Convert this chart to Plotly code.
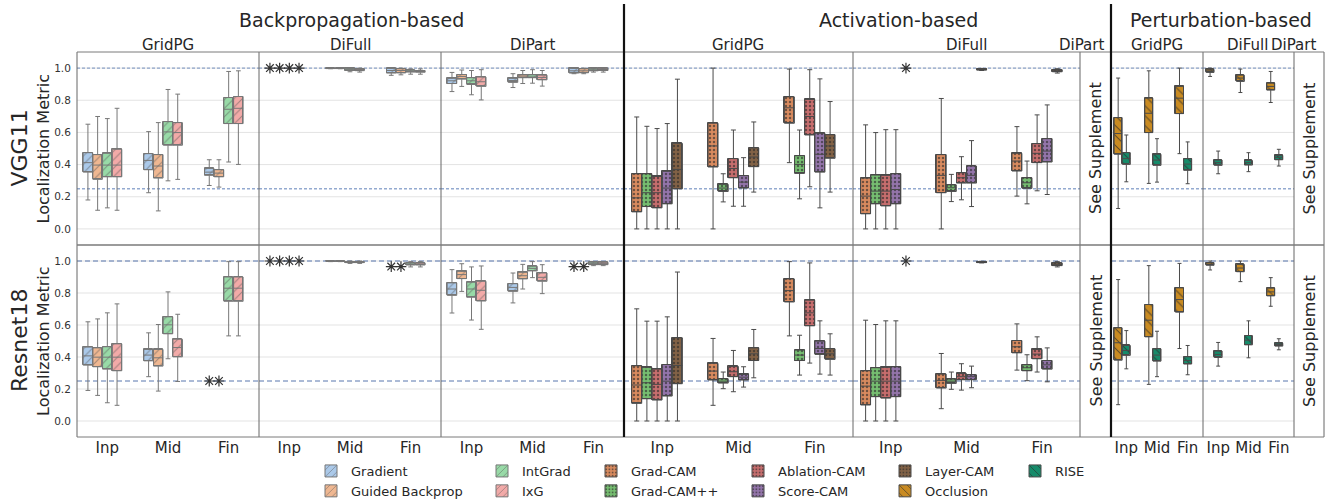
import plotly.graph_objects as go

# ---------------------------------------------------------------- data
CATEGORIES = ["Inp", "Mid", "Fin"]
MODELS = ["VGG11", "Resnet18"]
Y_LABEL = "Localization Metric"
FAMILIES = ["Backpropagation-based", "Activation-based", "Perturbation-based"]
BACKPROP = ["Gradient", "Guided Backprop", "IntGrad", "IxG"]
ACTIVATION = ["Grad-CAM", "Grad-CAM++", "Ablation-CAM", "Score-CAM", "Layer-CAM"]
PERTURBATION = ["Occlusion", "RISE"]
Y_TICKS = [0.0, 0.2, 0.4, 0.6, 0.8, 1.0]
Y_TICK_TEXT = ["0.0", "0.2", "0.4", "0.6", "0.8", "1.0"]
REFERENCE_LINES = [1.0, 0.25]
SUPPLEMENT_NOTE = "See Supplement"

# Per category (Inp, Mid, Fin): (lower whisker, Q1, median, Q3, upper whisker).
# A single number is a degenerate result, drawn as an asterisk at that value.
VGG_BP_GRIDPG = {
    "Gradient": [(0.18, 0.353, 0.412, 0.474, 0.651), (0.225, 0.368, 0.426, 0.468, 0.605), (0.27, 0.333, 0.353, 0.376, 0.43)],
    "Guided Backprop": [(0.116, 0.308, 0.397, 0.462, 0.699), (0.112, 0.316, 0.391, 0.462, 0.661), (0.26, 0.324, 0.347, 0.368, 0.43)],
    "IntGrad": [(0.131, 0.324, 0.397, 0.47, 0.686), (0.299, 0.52, 0.603, 0.667, 0.867), (0.416, 0.655, 0.744, 0.817, 0.979)],
    "IxG": [(0.116, 0.324, 0.397, 0.495, 0.75), (0.308, 0.52, 0.599, 0.661, 0.838), (0.401, 0.655, 0.75, 0.823, 0.983)],
}
VGG_BP_DIFULL = {
    "Gradient": [1.0, (0.996, 0.997, 0.998, 0.999, 1.0), (0.955, 0.969, 0.985, 0.998, 1.0)],
    "Guided Backprop": [1.0, (0.996, 0.997, 0.998, 0.999, 1.0), (0.958, 0.97, 0.985, 0.996, 1.0)],
    "IntGrad": [1.0, (0.977, 0.985, 0.992, 0.998, 1.0), (0.962, 0.975, 0.98, 0.986, 0.995)],
    "IxG": [1.0, (0.975, 0.984, 0.991, 0.997, 1.0), (0.962, 0.974, 0.979, 0.985, 0.995)],
}
VGG_BP_DIPART = {
    "Gradient": [(0.854, 0.904, 0.921, 0.936, 0.973), (0.879, 0.911, 0.923, 0.936, 0.965), (0.965, 0.969, 0.983, 0.998, 1.0)],
    "Guided Backprop": [(0.886, 0.931, 0.948, 0.96, 0.988), (0.904, 0.94, 0.95, 0.958, 0.985), (0.965, 0.971, 0.983, 0.996, 1.0)],
    "IntGrad": [(0.834, 0.898, 0.921, 0.94, 0.985), (0.906, 0.94, 0.95, 0.96, 0.99), (0.975, 0.983, 0.99, 0.998, 1.0)],
    "IxG": [(0.802, 0.886, 0.915, 0.944, 0.99), (0.888, 0.927, 0.942, 0.956, 0.985), (0.975, 0.985, 0.99, 0.998, 1.0)],
}
VGG_ACT_GRIDPG = {
    "Grad-CAM": [(0.0, 0.106, 0.193, 0.343, 0.696), (0.0, 0.385, 0.516, 0.657, 1.0), (0.412, 0.657, 0.753, 0.821, 0.994)],
    "Grad-CAM++": [(0.0, 0.139, 0.225, 0.343, 0.638), (0.168, 0.233, 0.254, 0.277, 0.343), (0.187, 0.345, 0.401, 0.455, 0.615)],
    "Ablation-CAM": [(0.0, 0.131, 0.225, 0.326, 0.624), (0.141, 0.318, 0.376, 0.437, 0.615), (0.262, 0.584, 0.699, 0.805, 0.99)],
    "Score-CAM": [(0.0, 0.156, 0.254, 0.358, 0.655), (0.141, 0.254, 0.291, 0.331, 0.443), (0.131, 0.353, 0.464, 0.595, 0.933)],
    "Layer-CAM": [(0.0, 0.249, 0.37, 0.532, 0.931), (0.229, 0.387, 0.447, 0.503, 0.665), (0.229, 0.439, 0.516, 0.586, 0.792)],
}
VGG_ACT_DIFULL = {
    "Grad-CAM": [(0.0, 0.094, 0.204, 0.316, 0.647), (0.0, 0.225, 0.333, 0.462, 0.811), (0.204, 0.36, 0.422, 0.47, 0.636)],
    "Grad-CAM++": [(0.0, 0.156, 0.235, 0.335, 0.599), (0.17, 0.233, 0.256, 0.274, 0.339), (0.156, 0.252, 0.287, 0.318, 0.422)],
    "Ablation-CAM": [(0.0, 0.143, 0.235, 0.333, 0.617), (0.181, 0.285, 0.318, 0.349, 0.449), (0.237, 0.412, 0.47, 0.53, 0.709)],
    "Score-CAM": [(0.0, 0.156, 0.245, 0.343, 0.617), (0.139, 0.285, 0.333, 0.391, 0.549), (0.214, 0.416, 0.484, 0.561, 0.771)],
    "Layer-CAM": [1.0, (0.985, 0.987, 0.992, 0.996, 0.998), (0.969, 0.977, 0.983, 0.99, 0.996)],
}
VGG_PT_GRIDPG = {
    "Occlusion": [(0.127, 0.464, 0.593, 0.692, 0.938), (0.283, 0.599, 0.719, 0.813, 0.983), (0.468, 0.717, 0.813, 0.886, 1.0)],
    "RISE": [(0.293, 0.401, 0.437, 0.474, 0.584), (0.291, 0.395, 0.428, 0.464, 0.561), (0.281, 0.364, 0.403, 0.437, 0.541)],
}
VGG_PT_DIFULL = {
    "Occlusion": [(0.948, 0.973, 0.983, 0.992, 1.0), (0.848, 0.917, 0.938, 0.956, 0.994), (0.786, 0.863, 0.886, 0.906, 0.979)],
    "RISE": [(0.343, 0.395, 0.412, 0.428, 0.484), (0.356, 0.397, 0.412, 0.426, 0.474), (0.391, 0.43, 0.445, 0.457, 0.495)],
}
RES_BP_GRIDPG = {
    "Gradient": [(0.191, 0.349, 0.407, 0.462, 0.62), (0.277, 0.376, 0.412, 0.447, 0.551), 0.25],
    "Guided Backprop": [(0.16, 0.339, 0.399, 0.457, 0.638), (0.187, 0.343, 0.395, 0.447, 0.603), 0.25],
    "IntGrad": [(0.114, 0.324, 0.399, 0.464, 0.676), (0.389, 0.545, 0.601, 0.651, 0.807), (0.532, 0.748, 0.83, 0.9, 0.996)],
    "IxG": [(0.098, 0.314, 0.399, 0.482, 0.732), (0.247, 0.401, 0.459, 0.511, 0.667), (0.532, 0.748, 0.83, 0.9, 0.996)],
}
RES_BP_DIFULL = {
    "Gradient": [1.0, (0.996, 0.997, 0.998, 0.999, 1.0), 0.965],
    "Guided Backprop": [1.0, (0.996, 0.997, 0.998, 0.999, 1.0), 0.965],
    "IntGrad": [1.0, (0.985, 0.99, 0.993, 0.996, 1.0), (0.963, 0.975, 0.981, 0.988, 0.996)],
    "IxG": [1.0, (0.985, 0.99, 0.993, 0.996, 1.0), (0.963, 0.975, 0.981, 0.988, 0.996)],
}
RES_BP_DIPART = {
    "Gradient": [(0.675, 0.785, 0.825, 0.863, 0.946), (0.738, 0.81, 0.835, 0.858, 0.925), 0.965],
    "Guided Backprop": [(0.81, 0.89, 0.915, 0.935, 0.983), (0.825, 0.888, 0.908, 0.929, 0.979), 0.965],
    "IntGrad": [(0.631, 0.773, 0.825, 0.867, 0.963), (0.896, 0.938, 0.954, 0.967, 0.996), (0.971, 0.977, 0.985, 0.992, 0.996)],
    "IxG": [(0.573, 0.75, 0.817, 0.873, 0.969), (0.796, 0.873, 0.898, 0.925, 0.977), (0.971, 0.977, 0.985, 0.992, 0.996)],
}
RES_ACT_GRIDPG = {
    "Grad-CAM": [(0.0, 0.11, 0.225, 0.345, 0.701), (0.098, 0.256, 0.312, 0.36, 0.516), (0.532, 0.744, 0.815, 0.888, 0.996)],
    "Grad-CAM++": [(0.0, 0.139, 0.239, 0.335, 0.624), (0.202, 0.237, 0.249, 0.264, 0.306), (0.287, 0.378, 0.412, 0.443, 0.536)],
    "Ablation-CAM": [(0.0, 0.131, 0.229, 0.324, 0.624), (0.183, 0.277, 0.308, 0.341, 0.441), (0.362, 0.595, 0.676, 0.755, 0.988)],
    "Score-CAM": [(0.0, 0.156, 0.249, 0.353, 0.651), (0.212, 0.256, 0.274, 0.291, 0.339), (0.293, 0.416, 0.453, 0.499, 0.626)],
    "Layer-CAM": [(0.0, 0.233, 0.347, 0.52, 0.931), (0.27, 0.378, 0.42, 0.457, 0.572), (0.287, 0.385, 0.42, 0.451, 0.545)],
}
RES_ACT_DIFULL = {
    "Grad-CAM": [(0.0, 0.1, 0.218, 0.314, 0.63), (0.077, 0.206, 0.254, 0.293, 0.422), (0.318, 0.426, 0.464, 0.503, 0.607)],
    "Grad-CAM++": [(0.0, 0.152, 0.249, 0.333, 0.603), (0.198, 0.235, 0.249, 0.262, 0.306), (0.252, 0.314, 0.333, 0.351, 0.414)],
    "Ablation-CAM": [(0.0, 0.143, 0.249, 0.335, 0.626), (0.193, 0.258, 0.277, 0.297, 0.358), (0.306, 0.389, 0.418, 0.447, 0.526)],
    "Score-CAM": [(0.0, 0.152, 0.249, 0.339, 0.626), (0.208, 0.258, 0.277, 0.289, 0.343), (0.245, 0.324, 0.351, 0.378, 0.457)],
    "Layer-CAM": [1.0, (0.988, 0.99, 0.993, 0.996, 0.998), (0.963, 0.971, 0.979, 0.988, 0.996)],
}
RES_PT_GRIDPG = {
    "Occlusion": [(0.102, 0.38, 0.489, 0.582, 0.884), (0.229, 0.526, 0.63, 0.728, 0.971), (0.453, 0.68, 0.759, 0.832, 0.985)],
    "RISE": [(0.326, 0.41, 0.441, 0.472, 0.565), (0.277, 0.374, 0.412, 0.451, 0.561), (0.289, 0.356, 0.378, 0.401, 0.472)],
}
RES_PT_DIFULL = {
    "Occlusion": [(0.944, 0.973, 0.981, 0.99, 1.0), (0.871, 0.933, 0.956, 0.979, 1.0), (0.717, 0.782, 0.807, 0.83, 0.896)],
    "RISE": [(0.343, 0.397, 0.416, 0.437, 0.491), (0.395, 0.476, 0.505, 0.534, 0.626), (0.445, 0.468, 0.478, 0.486, 0.514)],
}

# (family index, metric, methods, [VGG11 table, Resnet18 table] or None for "See Supplement")
PANELS = [
    (0, "GridPG", BACKPROP, [VGG_BP_GRIDPG, RES_BP_GRIDPG]),
    (0, "DiFull", BACKPROP, [VGG_BP_DIFULL, RES_BP_DIFULL]),
    (0, "DiPart", BACKPROP, [VGG_BP_DIPART, RES_BP_DIPART]),
    (1, "GridPG", ACTIVATION, [VGG_ACT_GRIDPG, RES_ACT_GRIDPG]),
    (1, "DiFull", ACTIVATION, [VGG_ACT_DIFULL, RES_ACT_DIFULL]),
    (1, "DiPart", ACTIVATION, None),
    (2, "GridPG", PERTURBATION, [VGG_PT_GRIDPG, RES_PT_GRIDPG]),
    (2, "DiFull", PERTURBATION, [VGG_PT_DIFULL, RES_PT_DIFULL]),
    (2, "DiPart", PERTURBATION, None),
]
LEGEND_COLUMNS = [["Gradient", "Guided Backprop"], ["IntGrad", "IxG"], ["Grad-CAM", "Grad-CAM++"],
                  ["Ablation-CAM", "Score-CAM"], ["Layer-CAM", "Occlusion"], ["RISE"]]

# ---------------------------------------------------------------- style
FONT = "DejaVu Sans"
W, H = 1325, 500
LEFT, RIGHT, TOP, BOTTOM = 77, 1324, 52, 437
ROW_SPLIT = 245
PANEL_EDGES = [77, 259, 441, 624, 853, 1080, 1111, 1203, 1294, 1324]
THICK_EDGES = [624, 1111]
FAMILY_TITLE_X = [351, 898, 1221]
SUBTITLE_X = [168, 350, 532, 738, 966, 1081, 1157, 1247, 1293]
LEGEND_TEXT_X = [351, 522, 631, 778, 925, 1055]
SLOTS = [5, 6, 3]
FILL = {
    "Gradient": "#abc9e9", "Guided Backprop": "#efb791", "IntGrad": "#98daa7", "IxG": "#f2aaa8",
    "Grad-CAM": "#d98b5f", "Grad-CAM++": "#76bf71", "Ablation-CAM": "#c76e6e", "Score-CAM": "#9475ab",
    "Layer-CAM": "#826246", "Occlusion": "#c98b22", "RISE": "#168b6a",
}
PATTERN = [
    dict(shape="/", size=6, solidity=0.18, fgcolor="#555555", fgopacity=0.5, fillmode="overlay"),
    dict(shape=".", size=4, solidity=0.3, fgcolor="#2a2a2a", fgopacity=0.6, fillmode="overlay"),
    dict(shape="\\", size=7, solidity=0.15, fgcolor="#2a2a2a", fgopacity=0.7, fillmode="overlay"),
]
EDGE = ["#777777", "#4a4a4a", "#4a4a4a"]
FRAME = "#666666"
GRID = "#e3e3e3"
TEXT = "#262626"
REF_STYLE = [dict(color="rgba(76,114,176,0.6)", width=1.4, dash="3px,2px"),
             dict(color="rgba(60,95,160,0.85)", width=1, dash="5px,3px")]


def px_x(px):
    return (px - LEFT) / (RIGHT - LEFT)


def px_y(py):
    return (BOTTOM - py) / (BOTTOM - TOP)


def ids(n):
    return ("x" if n == 1 else f"x{n}"), ("y" if n == 1 else f"y{n}")


def label(text, x, y, size, angle=0):
    return dict(text=text, x=x, y=y, xref="paper", yref="paper", xanchor="center", yanchor="middle",
                textangle=angle, showarrow=False, font=dict(family=FONT, size=size, color=TEXT))


fig = go.Figure()
legend_of = {m: i for i, col in enumerate(LEGEND_COLUMNS) for m in col}
shown = set()
layout_axes = {}
grid_shapes, ref_shapes, frame_shapes = [], [], []
split = px_y(ROW_SPLIT)
row_domains = [[split, 1.0], [0.0, split]]

for r in range(2):
    for p, (fam, metric, methods, tables) in enumerate(PANELS):
        n = r * len(PANELS) + p + 1
        xa, ya = ids(n)
        supplement = tables is None
        layout_axes["xaxis" if n == 1 else f"xaxis{n}"] = dict(
            domain=[px_x(PANEL_EDGES[p]), px_x(PANEL_EDGES[p + 1])], anchor=ya,
            range=[-0.5, 2.5], showgrid=False, zeroline=False, showline=False, automargin=False,
            tickvals=[0, 1, 2], ticktext=CATEGORIES,
            showticklabels=(r == 1 and not supplement),
            tickfont=dict(family=FONT, size=15, color=TEXT),
            ticks="", fixedrange=True)
        layout_axes["yaxis" if n == 1 else f"yaxis{n}"] = dict(
            domain=row_domains[r], anchor=xa, range=[-0.1, 1.1], automargin=False,
            showgrid=False, zeroline=False, showline=False,
            tickvals=Y_TICKS, ticktext=Y_TICK_TEXT, showticklabels=(p == 0),
            ticks="outside" if p == 0 else "", ticklen=3, tickcolor="rgba(0,0,0,0)",
            tickfont=dict(family=FONT, size=10.5, color="#333333"), fixedrange=True)
        if supplement:
            continue
        for v in Y_TICKS:
            grid_shapes.append(dict(type="line", xref=xa, yref=ya, x0=-0.5, x1=2.5, y0=v, y1=v,
                                    layer="below", line=dict(color=GRID, width=1)))
        for v in REFERENCE_LINES:
            ref_shapes.append(dict(type="line", xref=xa, yref=ya, x0=-0.5, x1=2.5, y0=v, y1=v,
                                   layer="below", line=REF_STYLE[r]))
        table = tables[r]
        slot_w = 0.8 / SLOTS[fam]
        for k, m in enumerate(methods):
            xs, lo, q1, med, q3, hi, sx, sy = [], [], [], [], [], [], [], []
            for c, entry in enumerate(table.get(m, [None, None, None])):
                x = c - 0.4 + slot_w * (k + 0.5)
                if entry is None:
                    continue
                if isinstance(entry, (int, float)):
                    sx.append(x)
                    sy.append(entry)
                    continue
                xs.append(x)
                lo.append(entry[0]); q1.append(entry[1]); med.append(entry[2])
                q3.append(entry[3]); hi.append(entry[4])
            li = legend_of[m]
            if xs:
                fig.add_trace(go.Bar(
                    x=xs, base=q1, y=[b - a for a, b in zip(q1, q3)], width=slot_w * 0.98,
                    xaxis=xa, yaxis=ya, name=m, showlegend=m not in shown,
                    legend="legend" if li == 0 else f"legend{li + 1}",
                    marker=dict(color=FILL[m], line=dict(color=EDGE[fam], width=1), pattern=PATTERN[fam]),
                    hoverinfo="skip"))
                shown.add(m)
                fig.add_trace(go.Box(
                    x=xs, q1=q1, median=med, q3=q3, lowerfence=lo, upperfence=hi,
                    width=slot_w * 0.98, xaxis=xa, yaxis=ya, name=m, showlegend=False,
                    fillcolor="rgba(0,0,0,0)", line=dict(color=EDGE[fam], width=1),
                    whiskerwidth=0.5, boxpoints=False, hoverinfo="skip"))
            if sx:
                fig.add_trace(go.Scatter(
                    x=sx, y=sy, mode="markers", xaxis=xa, yaxis=ya, showlegend=False,
                    marker=dict(symbol="asterisk-open", size=9, color="#333333",
                                line=dict(color="#333333", width=1.2)),
                    hoverinfo="skip"))

# frames
for e in PANEL_EDGES:
    if e in THICK_EDGES:
        continue
    frame_shapes.append(dict(type="line", xref="paper", yref="paper", x0=px_x(e), x1=px_x(e), y0=0, y1=1,
                             layer="above", line=dict(color=FRAME, width=1)))
for yy, wdt in [(0, 1), (split, 1.6), (1, 1)]:
    frame_shapes.append(dict(type="line", xref="paper", yref="paper", x0=0, x1=1, y0=yy, y1=yy,
                             layer="above", line=dict(color="#7a7a7a", width=wdt)))
for e in THICK_EDGES:
    frame_shapes.append(dict(type="line", xref="paper", yref="paper", x0=px_x(e), x1=px_x(e), y0=0,
                             y1=px_y(4), layer="above", line=dict(color="#111111", width=2.2)))

annotations = []
for i, t in enumerate(FAMILIES):
    annotations.append(label(t, px_x(FAMILY_TITLE_X[i]), px_y(20), 19))
for p, (fam, metric, methods, tables) in enumerate(PANELS):
    annotations.append(label(metric, px_x(SUBTITLE_X[p]), px_y(45), 15))
    if tables is None:
        for r in range(2):
            annotations.append(label(SUPPLEMENT_NOTE, (px_x(PANEL_EDGES[p]) + px_x(PANEL_EDGES[p + 1])) / 2,
                                     sum(row_domains[r]) / 2, 16, -90))
for r in range(2):
    yc = sum(row_domains[r]) / 2
    annotations.append(label(MODELS[r], px_x(19), yc, 22, -90))
    annotations.append(label(Y_LABEL, px_x(43), yc, 16, -90))

legends = {}
for i, tx in enumerate(LEGEND_TEXT_X):
    legends["legend" if i == 0 else f"legend{i + 1}"] = dict(
        x=(tx - 40) / W, y=1 - 456 / H, xref="container", yref="container",
        xanchor="left", yanchor="top", orientation="v", bgcolor="rgba(0,0,0,0)",
        font=dict(family=FONT, size=13, color=TEXT), tracegroupgap=0)

fig.update_layout(
    width=W, height=H, autosize=False,
    margin=dict(l=LEFT, r=W - RIGHT, t=TOP, b=H - BOTTOM, pad=0, autoexpand=False),
    paper_bgcolor="white", plot_bgcolor="white",
    barmode="overlay", boxmode="overlay", bargap=0,
    shapes=grid_shapes + ref_shapes + frame_shapes, annotations=annotations,
    font=dict(family=FONT, color=TEXT),
    **layout_axes, **legends)

fig.write_html("out.html", config={"displayModeBar": False},
               post_script="document.body.style.margin='0';")
